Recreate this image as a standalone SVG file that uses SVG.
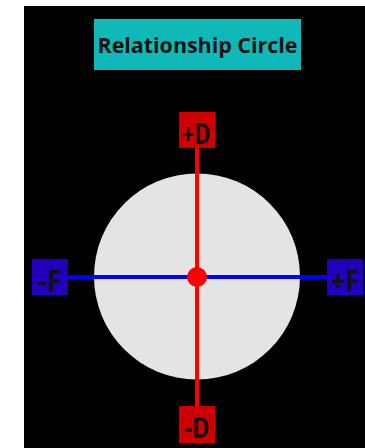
<svg xmlns="http://www.w3.org/2000/svg" width="365" height="448" viewBox="0 0 365 448">
<style>
.lbl{font-family:"Open Sans","Liberation Sans",sans-serif;font-weight:bold;fill:#111;text-anchor:middle}
.box{font-size:28px}
.red{fill:#CC0000}
.blue{fill:#2200BB}
</style>
<rect x="0" y="0" width="365" height="448" fill="#ffffff"/>
<rect x="24" y="6" width="341" height="442" fill="#000000"/>
<g id="title">
<rect x="94" y="19" width="207" height="51" fill="#10B9B9"/>
<text class="lbl" x="197.5" y="52.5" font-size="21.5" textLength="200" lengthAdjust="spacingAndGlyphs">Relationship Circle</text>
</g>
<g id="circle">
<circle cx="197" cy="276.5" r="103" fill="#E4E4E4"/>
</g>
<g id="connectors">
<line x1="197" y1="148" x2="197" y2="406" stroke="#FF0000" stroke-width="4"/>
<line x1="68" y1="277" x2="327" y2="277" stroke="#0000FF" stroke-width="4"/>
</g>
<g id="center">
<circle cx="197" cy="277" r="10" fill="#FF0000"/>
</g>
<g id="plusD">
<rect class="red" x="179" y="112" width="36" height="36"/>
<text class="lbl box" x="196" y="144" textLength="29" lengthAdjust="spacingAndGlyphs">+D</text>
</g>
<g id="minusD">
<rect class="red" x="179" y="406" width="36" height="37"/>
<text class="lbl box" x="197" y="438" textLength="25" lengthAdjust="spacingAndGlyphs">-D</text>
</g>
<g id="minusF">
<rect class="blue" x="32" y="259" width="36" height="36"/>
<text class="lbl box" x="50" y="291" textLength="24" lengthAdjust="spacingAndGlyphs">-F</text>
</g>
<g id="plusF">
<rect class="blue" x="327" y="259" width="36" height="36"/>
<text class="lbl box" x="345" y="291" textLength="28" lengthAdjust="spacingAndGlyphs">+F</text>
</g>
</svg>
